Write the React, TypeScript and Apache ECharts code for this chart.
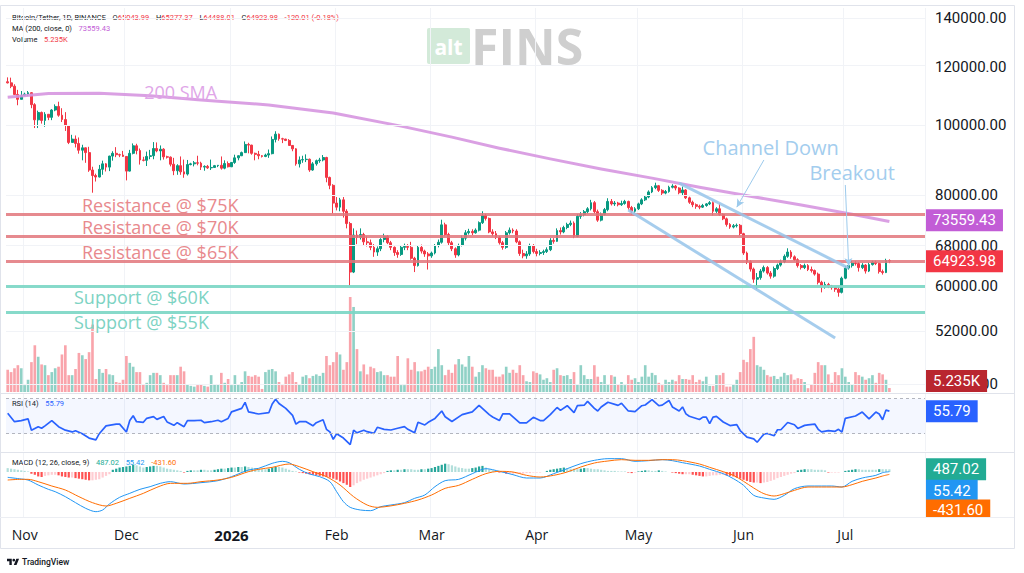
import React, { useEffect, useRef } from "react";
import * as echarts from "echarts";

// ---------- DATA ----------
const START_UTC = Date.UTC(2025, 9, 27); // first candle: 2025-10-27
const FUTURE_DAYS = 10;

// candles: [open, close, low, high] in thousand USDT
const oct2025 = [
  [114.5, 114.1, 113.9, 116.1], [114.1, 112.9, 112.2, 116.0], [112.9, 110.0, 109.9, 113.6],
  [110.0, 108.3, 106.3, 111.6], [108.3, 109.6, 108.3, 111.2],
];
const nov2025 = [
  [109.6, 110.1, 109.4, 110.6], [110.1, 110.6, 109.5, 111.2], [110.6, 106.5, 105.3, 110.8],
  [106.5, 101.5, 98.9, 107.0], [101.5, 103.9, 98.9, 104.5], [103.9, 101.3, 100.3, 104.2],
  [101.3, 103.3, 99.3, 104.0], [103.3, 102.3, 101.4, 103.4], [102.3, 104.7, 101.4, 105.0],
  [104.7, 105.9, 104.3, 106.6], [105.9, 103.0, 102.5, 107.5], [103.0, 101.6, 100.8, 105.3],
  [101.6, 99.7, 98.0, 104.0], [99.7, 94.5, 94.0, 99.8], [94.5, 95.5, 94.5, 96.8],
  [95.5, 94.2, 93.0, 96.6], [94.2, 92.2, 91.2, 96.0], [92.2, 92.9, 89.3, 93.8],
  [92.9, 91.5, 88.6, 93.0], [91.5, 86.6, 86.1, 93.2], [86.6, 85.1, 80.6, 87.5],
  [85.1, 84.7, 83.5, 85.6], [84.7, 86.8, 84.6, 88.0], [86.8, 88.3, 85.3, 89.2],
  [88.3, 87.4, 86.2, 88.5], [87.4, 90.5, 86.3, 90.6], [90.5, 91.3, 89.2, 91.9],
  [91.3, 90.9, 90.2, 93.1], [90.9, 90.8, 90.2, 91.2], [90.8, 90.4, 90.3, 92.0],
];
const dec2025 = [
  [90.4, 86.3, 83.8, 90.4], [86.3, 91.3, 86.2, 92.3], [91.3, 93.5, 91.0, 94.2],
  [93.5, 92.1, 91.0, 94.1], [92.1, 89.4, 88.1, 92.7], [89.4, 89.3, 89.0, 90.3],
  [89.3, 90.4, 87.7, 91.8], [90.4, 90.6, 89.6, 92.3], [90.6, 92.7, 89.6, 94.6],
  [92.7, 92.0, 91.6, 94.5], [92.0, 92.5, 89.3, 93.6], [92.5, 90.3, 89.5, 92.8],
  [90.3, 90.2, 89.8, 90.6], [90.2, 88.2, 87.6, 90.4], [88.2, 86.4, 85.2, 90.0],
  [86.4, 87.8, 85.3, 88.2], [87.8, 86.1, 85.3, 90.4], [86.1, 85.5, 84.5, 89.5],
  [85.5, 88.1, 85.1, 89.4], [88.1, 88.3, 87.9, 88.6], [88.3, 88.6, 87.6, 89.1],
  [88.6, 88.5, 87.9, 90.6], [88.5, 87.4, 86.6, 88.9], [87.4, 87.6, 86.4, 87.9],
  [87.6, 87.2, 86.9, 88.0], [87.2, 87.3, 86.6, 89.5], [87.3, 87.8, 87.2, 88.0],
  [87.8, 87.9, 87.4, 88.0], [87.9, 87.1, 86.7, 90.4], [87.1, 88.4, 86.8, 89.3],
  [88.4, 87.5, 87.3, 89.0],
];
const jan2026 = [
  [87.5, 88.7, 87.4, 88.8], [88.7, 90.0, 88.3, 90.9], [90.0, 90.6, 89.3, 90.7],
  [90.6, 91.5, 90.5, 91.8], [91.5, 93.9, 91.4, 94.8], [93.9, 93.7, 91.3, 94.4],
  [93.7, 91.3, 90.9, 93.8], [91.3, 91.0, 89.3, 91.5], [91.0, 90.6, 89.6, 92.0],
  [90.6, 90.4, 90.1, 90.8], [90.4, 90.8, 90.2, 91.2], [90.8, 91.2, 90.0, 92.4],
  [91.2, 95.4, 91.0, 96.3], [95.4, 97.0, 94.5, 97.9], [97.0, 95.6, 95.0, 97.2],
  [95.6, 95.5, 94.3, 95.9], [95.5, 95.1, 94.9, 95.6], [95.1, 93.6, 93.6, 95.5],
  [93.6, 92.6, 91.9, 93.7], [92.6, 88.3, 87.8, 92.8], [88.3, 89.4, 87.3, 90.4],
  [89.4, 89.5, 88.6, 90.6], [89.5, 89.6, 88.8, 91.0], [89.6, 86.6, 86.1, 89.8],
  [86.6, 88.3, 86.4, 88.8], [88.3, 89.2, 87.8, 89.5], [89.2, 89.4, 88.6, 90.0],
  [89.4, 90.1, 89.0, 90.8], [90.1, 84.6, 83.3, 90.3], [84.6, 82.5, 81.5, 84.8],
  [82.5, 78.0, 75.5, 82.8],
];
const feb2026 = [
  [78.0, 77.0, 76.2, 79.5], [77.0, 78.8, 76.0, 79.3], [78.8, 76.0, 74.5, 79.5],
  [76.0, 73.1, 72.0, 76.5], [73.1, 62.7, 60.1, 73.5], [62.7, 70.5, 62.5, 72.0],
  [70.5, 70.0, 68.5, 71.5], [70.0, 70.6, 69.5, 72.0], [70.6, 69.0, 68.3, 71.0],
  [69.0, 68.8, 68.0, 70.2], [68.8, 67.8, 67.2, 69.5], [67.8, 66.8, 65.8, 68.5],
  [66.8, 67.5, 66.0, 68.0], [67.5, 69.5, 67.0, 69.8], [69.5, 70.2, 68.9, 70.8],
  [70.2, 68.8, 68.5, 70.5], [68.8, 67.8, 67.2, 69.2], [67.8, 66.7, 66.0, 68.0],
  [66.7, 66.3, 65.6, 67.2], [66.3, 67.8, 66.0, 68.2], [67.8, 68.0, 67.2, 68.6],
  [68.0, 67.8, 67.2, 68.5], [67.8, 65.5, 65.2, 69.0], [65.5, 64.0, 62.7, 65.8],
  [64.0, 67.8, 63.8, 68.2], [67.8, 67.0, 66.5, 68.4], [67.0, 66.4, 65.8, 67.3],
  [66.4, 66.0, 63.2, 66.8],
];
const mar2026 = [
  [66.0, 66.6, 65.6, 66.9], [66.6, 68.2, 66.3, 68.5], [68.2, 68.9, 67.8, 69.5],
  [68.9, 72.8, 68.6, 74.0], [72.8, 70.6, 70.2, 73.3], [70.6, 68.8, 68.3, 71.0],
  [68.8, 67.5, 67.0, 69.2], [67.5, 66.2, 65.6, 67.8], [66.2, 68.2, 65.9, 68.6],
  [68.2, 69.8, 68.0, 70.4], [69.8, 71.0, 69.3, 71.6], [71.0, 71.3, 70.6, 71.9],
  [71.3, 71.0, 70.5, 71.8], [71.0, 71.6, 70.8, 72.0], [71.6, 73.3, 71.3, 73.6],
  [73.3, 75.0, 73.0, 76.0], [75.0, 74.3, 73.8, 75.4], [74.3, 71.2, 70.9, 74.5],
  [71.2, 70.8, 70.2, 71.8], [70.8, 70.0, 69.6, 71.4], [70.0, 68.8, 68.4, 70.3],
  [68.8, 67.8, 67.3, 69.2], [67.8, 71.0, 67.5, 71.4], [71.0, 71.6, 70.6, 72.2],
  [71.6, 71.4, 70.9, 72.0], [71.4, 69.0, 68.7, 71.8], [69.0, 66.5, 66.0, 69.3],
  [66.5, 66.0, 65.5, 67.3], [66.0, 66.4, 65.4, 67.0], [66.4, 68.2, 66.0, 68.6],
  [68.2, 66.9, 66.5, 68.5],
];
const apr2026 = [
  [66.9, 66.5, 65.9, 67.5], [66.5, 66.7, 66.1, 67.2], [66.7, 66.9, 66.2, 67.3],
  [66.9, 67.3, 66.6, 67.8], [67.3, 69.3, 67.0, 69.8], [69.3, 69.1, 68.6, 69.8],
  [69.1, 71.5, 69.0, 72.0], [71.5, 71.2, 70.6, 72.2], [71.2, 72.2, 70.9, 72.6],
  [72.2, 72.9, 71.8, 73.3], [72.9, 73.2, 72.5, 73.8], [73.2, 70.2, 69.8, 73.6],
  [70.2, 74.8, 70.0, 75.3], [74.8, 75.2, 74.2, 75.8], [75.2, 75.9, 74.8, 76.3],
  [75.9, 76.6, 75.5, 77.0], [76.6, 78.1, 76.2, 78.8], [78.1, 75.9, 75.5, 78.5],
  [75.9, 73.9, 73.5, 76.4], [73.9, 75.3, 73.6, 75.7], [75.3, 76.4, 75.0, 76.8],
  [76.4, 78.4, 76.0, 79.2], [78.4, 77.8, 77.4, 79.0], [77.8, 78.0, 77.3, 78.5],
  [78.0, 77.6, 77.2, 78.3], [77.6, 77.9, 77.3, 78.6], [77.9, 78.4, 77.6, 78.8],
  [78.4, 76.9, 76.4, 78.6], [76.9, 76.0, 75.2, 77.3], [76.0, 76.6, 75.6, 77.0],
];
const may2026 = [
  [76.6, 77.8, 76.3, 78.1], [77.8, 78.8, 77.5, 79.2], [78.8, 79.5, 78.5, 80.0],
  [79.5, 80.8, 79.2, 81.2], [80.8, 81.9, 80.5, 82.3], [81.9, 82.4, 81.5, 83.2],
  [82.4, 81.2, 80.8, 82.6], [81.2, 80.5, 80.0, 81.5], [80.5, 80.9, 80.2, 81.3],
  [80.9, 82.0, 80.6, 82.4], [82.0, 82.3, 81.7, 82.8], [82.3, 81.8, 81.2, 82.6],
  [81.8, 80.6, 80.2, 82.0], [80.6, 81.3, 79.8, 82.2], [81.3, 79.3, 79.0, 81.5],
  [79.3, 78.2, 77.8, 79.6], [78.2, 77.6, 77.0, 78.6], [77.6, 77.2, 76.6, 77.9],
  [77.2, 77.0, 76.5, 77.6], [77.0, 77.4, 76.8, 77.8], [77.4, 77.8, 77.1, 78.0],
  [77.8, 78.1, 77.5, 78.5], [78.1, 76.0, 75.0, 78.4], [76.0, 76.6, 75.6, 77.0],
  [76.6, 75.2, 74.9, 77.9], [75.2, 74.2, 73.9, 75.5], [74.2, 72.9, 72.4, 74.5],
  [72.9, 72.3, 71.9, 73.2], [72.3, 72.6, 72.0, 73.0], [72.6, 72.7, 72.2, 73.1],
  [72.7, 70.8, 70.4, 73.0],
];
const jun2026 = [
  [70.8, 66.6, 66.2, 71.0], [66.6, 64.8, 64.3, 66.9], [64.8, 63.3, 62.8, 65.1],
  [63.3, 61.3, 60.6, 63.6], [61.3, 61.6, 59.4, 62.5], [61.6, 62.9, 61.2, 63.3],
  [62.9, 63.6, 62.6, 64.0], [63.6, 62.5, 62.2, 63.9], [62.5, 61.9, 61.4, 62.9],
  [61.9, 63.4, 61.6, 63.8], [63.4, 64.1, 63.1, 64.4], [64.1, 64.8, 63.8, 65.2],
  [64.8, 65.9, 64.5, 66.3], [65.9, 66.8, 65.6, 67.6], [66.8, 65.8, 65.4, 67.2],
  [65.8, 65.2, 64.9, 66.1], [65.2, 64.0, 63.6, 65.5], [64.0, 63.6, 63.2, 64.3],
  [63.6, 64.0, 63.3, 64.4], [64.0, 63.2, 62.9, 64.3], [63.2, 63.0, 62.6, 63.8],
  [63.0, 62.3, 62.0, 63.2], [62.3, 60.7, 60.3, 62.6], [60.7, 59.9, 58.8, 61.0],
  [59.9, 60.3, 59.5, 60.8], [60.3, 60.0, 59.6, 60.6], [60.0, 59.7, 59.3, 60.2],
  [59.7, 59.4, 58.9, 60.0], [59.4, 58.8, 58.0, 59.9], [58.8, 61.5, 58.6, 61.8],
];
const jul2026 = [
  [61.5, 63.5, 61.3, 63.9], [63.5, 64.0, 63.2, 64.6], [64.0, 64.5, 63.6, 65.0],
  [64.5, 64.4, 64.0, 64.9], [64.4, 63.6, 62.8, 64.7], [63.6, 64.1, 63.3, 64.5],
  [64.1, 62.9, 62.4, 64.3], [62.9, 64.2, 62.7, 64.6], [64.2, 64.7, 64.0, 65.0],
  [64.7, 64.4, 64.1, 65.0], [64.4, 62.8, 62.4, 64.6], [62.8, 62.6, 62.2, 63.2],
  [62.6, 65.04399, 62.5, 65.4], [65.04399, 64.92398, 64.48801, 65.27737],
];

// volume, thousand BTC
const volumes = [
  29, 26, 31, 35, 31, 9, 16, 39, 61, 46,
  36, 35, 22, 26, 31, 33, 49, 61, 22, 22,
  30, 51, 48, 43, 52, 88, 17, 30, 25, 30, 23, 22, 13, 12, 16,
  47, 38, 33, 26, 26, 10, 12, 22, 25, 25, 22, 12, 9,
  22, 22, 22, 33, 27, 10, 8, 7, 9, 10, 8, 7,
  22, 10, 10, 25, 12, 17, 9, 22, 10, 13, 27,
  21, 20, 22, 20, 4, 26, 29, 30, 27,
  13, 9, 20, 23, 26, 13, 10, 20, 22, 18, 21, 23, 21, 25,
  47, 35, 39, 52, 49, 29, 39, 124, 111, 56,
  27, 36, 23, 33, 31, 26, 27, 22, 22, 20, 20,
  47, 9, 9, 44, 29, 39, 27, 27, 29, 33, 30, 33,
  56, 35, 22, 29, 25, 36, 43, 36, 33, 47, 33, 20, 26,
  35, 31, 29, 29, 20, 20, 23, 33, 25, 29, 25, 35,
  22, 14, 13, 27, 25, 23, 16, 18, 13, 29,
  31, 22, 21, 22, 17, 26, 10, 35, 22, 17, 17, 35,
  20, 13, 22, 10, 22, 20, 10, 13, 9, 22, 16, 18, 13, 20, 35, 20, 25, 22, 12, 9, 16, 13, 16, 14, 22, 17, 17, 16, 22,
  13, 16, 14, 20, 8, 8, 22, 22, 25, 7, 7, 10, 16,
  26, 42, 39, 56, 72, 35, 33, 29, 22, 20, 21, 17, 20, 25, 22, 23, 16, 18, 17, 13,
  5, 10,
  25, 39, 35, 35, 23, 12, 26, 22, 31, 20, 13, 10, 26, 22, 20, 16, 18, 22, 12, 25, 23, 16, 5.235,
];

// MACD histogram (USDT), one per candle
const macdHistogram = [
  700, 600, 500, 400, 300, 200, 100, -300, -500, -800, -900, -700,
  -600, -500, -500, -600, -800, -900, -1000, -1000, -1100, -1200, -1300, -1400, -1500, -1500, -1400, -1300,
  -1000, -700, -400, 400, 600, 800, 900, 1000, 1100, 1300, 1200, 1000, 800, 900, 1000,
  1100, 1100, 1000, 800, 600, 500, 400, 300, 200, -100,
  200, 300, 300, 300, 400, 400, 300, 300, 400, 500, 600, 600, 700, 800, 800, 900, 900, 1000,
  900, 800, 700, 600, 500, 500, 600, 800, 900, 900, 800, 600, 400, 200, 100,
  -100, -200, -300, -400, -500, -600, -700, -800, -900, -1000, -1200, -1400, -1700, -2000, -2300, -2700,
  -2400, -2000, -1700, -1400, -1200, -1000, -800, -600, -400, -200,
  200, 300, 300, 400, 400, 500, 500, 500, 400, 400, 500, 500, 600, 700, 900, 1100, 1300, 1500, 1400, 1200,
  1000, 800, 700, 600, 600, 700, 800, 1000, 1100, 800, 500, 300, 100, -100, -100,
  -300, -300, -300, -300, -300, -300, -200, -200, -100, -100, -100, 0,
  200, 400, 500, 600, 700, 800, 700, 600, 600, 500, 600, 700, 700, 600, 500, 500, 400,
  300, 200, 200, 200, 100, 100, 100, -100, -200, -100, 100, 200, 300, 300, 200, 200, 300, 200, 100, 0,
  -100, -200, -300, -400, -400, -400, -500, -600, -700, -800, -800, -700, -600, -600,
  -500, -500, -600, -700, -800, -1000, -1200, -1400, -1600, -1800, -1900, -1900, -2000, -1900, -1800, -1600,
  -1400, -1100, -900, -700, -500, -300, -200, 300, 400, 500, 500, 500, 400, 400, 400, 300,
  -100, -100, -100, -100, 0, 200, 300, 400, 500, 500, 400, 400, 400, 400, 400, 500, 500, 500, 487.02,
];

// sparse readings [candle index, value]
const smaPoints = [
  [0, 109000], [12, 110300], [27, 110400], [42, 109500], [57, 108100], [77, 106400], [96, 103700],
  [116, 99500], [131, 96100], [145, 92800], [160, 89700], [175, 86900], [190, 84400], [204, 82000],
  [219, 79700], [234, 77500], [249, 75300], [260, 73559.43],
];
const rsiPoints = [
  [0, 53.3], [2, 43.7], [4, 45], [6, 47], [7, 34], [9, 38], [10, 36.2], [11, 39], [13, 45], [15, 38], [17, 34],
  [19, 32], [20, 33.4], [22, 30], [24, 25], [26, 23], [27, 30], [29, 39], [32, 41], [33, 41], [35, 32], [36, 45],
  [37, 50.5], [38, 43.7], [40, 43], [41, 47.6], [43, 49.6], [44, 46.4], [46, 49.6], [47, 43.5], [49, 39.6],
  [50, 42.6], [52, 38], [53, 45], [55, 44.9], [57, 45.4], [58, 42.6], [60, 43.7], [62, 45.4], [63, 43.7],
  [65, 47.5], [66, 55], [69, 59], [70, 65.8], [71, 55], [74, 52.5], [77, 54], [78, 64], [79, 69.5], [80, 64.6],
  [82, 59], [84, 51], [85, 41], [86, 43.7], [88, 43.7], [90, 39], [91, 42.6], [93, 46], [94, 35], [95, 32],
  [96, 23.5], [97, 30], [99, 25], [101, 17.5], [102, 34], [103, 31], [105, 34], [106, 32.3], [108, 30.4],
  [109, 37.3], [111, 35], [113, 34.2], [115, 36.2], [117, 38], [118, 35], [120, 31], [121, 43], [123, 40],
  [124, 43], [126, 47.5], [128, 56], [129, 49.4], [131, 44], [134, 51.8], [137, 55], [139, 62.4], [142, 51.8],
  [143, 49.1], [145, 45], [146, 52.7], [148, 52.7], [151, 42.3], [153, 42.3], [155, 48.7], [157, 45], [158, 45],
  [160, 51.8], [162, 60], [163, 56.7], [165, 62], [167, 54], [168, 62], [170, 62.6], [171, 67], [173, 59],
  [174, 56], [175, 60.5], [177, 66], [180, 62.4], [181, 64.8], [183, 56], [185, 55.3], [187, 62], [188, 62.8],
  [190, 69], [192, 62], [193, 62.7], [195, 68], [196, 60.6], [198, 56], [199, 60.6], [200, 52.7], [201, 50],
  [204, 46.3], [205, 49], [206, 49], [207, 41.5], [208, 49], [209, 49.8], [211, 43.4], [213, 39.3], [215, 40.4],
  [216, 33.6], [218, 26], [220, 24], [221, 20.2], [223, 29.5], [224, 30.2], [226, 27.6], [227, 34.5], [228, 34.5],
  [230, 42.8], [232, 40.2], [233, 36], [235, 39.5], [236, 40], [238, 41], [239, 35], [240, 32], [242, 33.5],
  [244, 32.7], [245, 35], [246, 31.8], [247, 47.6], [250, 50.2], [252, 54.7], [254, 47], [256, 54.7],
  [257, 52.5], [258, 46], [259, 57], [260, 55.79],
];
const macdPoints = [
  [0, -960], [4, -1260], [6, -1440], [9, -2340], [12, -3120], [14, -3540], [17, -4440], [20, -5520], [23, -6540],
  [26, -7140], [28, -6840], [30, -5760], [33, -4560], [36, -3840], [39, -3120], [42, -2640], [45, -2040],
  [48, -1740], [52, -2160], [57, -1920], [62, -1560], [66, -840], [71, 360], [74, 660], [78, 1560], [81, 1920],
  [83, 1680], [86, 480], [89, -360], [92, -840], [95, -1740], [97, -3540], [99, -5340], [101, -6360], [104, -6840],
  [107, -6960], [110, -6240], [113, -5940], [117, -5520], [120, -4740], [123, -4140], [126, -2640], [129, -1560],
  [133, -1320], [137, -300], [141, 600], [145, 120], [149, -480], [153, -1080], [157, -1080], [161, -300],
  [165, 600], [169, 1500], [173, 2100], [177, 2400], [181, 2400], [185, 1920], [189, 2040], [193, 2220],
  [196, 2040], [199, 1680], [204, 1080], [207, 480], [211, -300], [214, -1200], [217, -2400], [220, -4200],
  [223, -4680], [226, -4920], [229, -4200], [232, -3000], [236, -2520], [240, -2520], [243, -2520], [246, -2700],
  [249, -1680], [252, -1080], [256, -600], [258, -120], [260, 55.42],
];
const signalPoints = [
  [0, -1440], [4, -1320], [6, -1320], [9, -1740], [13, -2520], [17, -3240], [21, -4440], [25, -5520],
  [29, -6120], [32, -5640], [36, -4740], [40, -3840], [44, -2760], [48, -2040], [53, -2040], [57, -1740],
  [62, -1440], [66, -960], [71, 60], [74, 480], [78, 840], [83, 1440], [86, 960], [90, 60], [94, -840],
  [98, -2340], [102, -4440], [106, -5940], [109, -6360], [113, -6100], [117, -5640], [121, -5040], [125, -4140],
  [129, -2940], [133, -2400], [137, -1320], [141, -300], [145, 120], [149, 0], [153, -600], [157, -900],
  [161, -600], [165, 0], [169, 900], [173, 1620], [177, 1980], [181, 2220], [185, 2100], [189, 2100],
  [193, 2220], [196, 2220], [199, 2040], [204, 1440], [207, 840], [211, 60], [214, -600], [217, -1680],
  [220, -2880], [223, -3900], [226, -4320], [229, -3900], [232, -3300], [236, -2700], [240, -2700],
  [243, -2700], [246, -2700], [249, -2280], [252, -1680], [256, -1080], [258, -720], [260, -431.6],
];

const priceTicks = [44000, 52000, 60000, 68000, 80000, 100000, 120000, 140000];
const resistanceLevels = [75000, 70000, 65000];
const supportLevels = [60000, 55000];
const channelUpper = [[198, 83100], [248, 63500]];
const channelLower = [[183, 76300], [244, 50900]];
const channelArrow = [[223, 89400], [215, 77000]];
const breakoutArrow = [[247, 82600], [248, 63900]];
const notes = [
  { text: "Channel Down", k: 225, price: 93100, color: "#a3cdee", size: 20 },
  { text: "Breakout", k: 249, price: 85800, color: "#a3cdee", size: 20 },
  { text: "200 SMA", k: 51, price: 110800, color: "#e0a6e8", size: 18 },
];
const lastClose = 64923.98;
const lastSma = 73559.43;
const lastVolumeText = "5.235K";
const lastVolume = 5.235;
const lastRsi = 55.79;
const lastHist = 487.02;
const lastMacd = 55.42;
const lastSignal = -431.6;

const PRICE_MIN = 42900;
const PRICE_MAX = 144600;

// ---------- helpers ----------
const monthNames = ["Jan", "Feb", "Mar", "Apr", "May", "Jun", "Jul", "Aug", "Sep", "Oct", "Nov", "Dec"];
const ln = (v: number) => Math.log(v);

echarts.graphic.registerShape(
  "tvlogo",
  echarts.graphic.extendPath("M14 22H7V11H0V4h14v18zM28 22h-8l7.5-18h8L28 22zM20 4a4 4 0 1 1 0 8a4 4 0 1 1 0-8z", {})
);

const hiddenLine = { color: "rgba(0,0,0,0)", width: 1, type: "solid" };

function box(text: string, color: string, offsetY = 0) {
  return {
    show: true,
    position: "end",
    distance: 1,
    formatter: text,
    backgroundColor: color,
    color: "#ffffff",
    padding: [3, 7, 3, 7],
    fontSize: 15,
    lineHeight: 16,
    fontFamily: "Roboto",
    offset: [0, offsetY],
  };
}

function buildOption() {
  const candles = [
    ...oct2025, ...nov2025, ...dec2025, ...jan2026, ...feb2026,
    ...mar2026, ...apr2026, ...may2026, ...jun2026, ...jul2026,
  ];
  const n = candles.length + FUTURE_DAYS;
  const dates: string[] = [];
  for (let i = 0; i < n; i++) dates.push(new Date(START_UTC + i * 86400000).toISOString().slice(0, 10));

  const candleData = candles.map(([o, c, l, h]) => [ln(o * 1000), ln(c * 1000), ln(l * 1000), ln(h * 1000)]);
  const volData = volumes.map((v, i) => ({
    value: v,
    itemStyle: { color: candles[i][1] >= candles[i][0] ? "rgba(8,153,129,0.45)" : "rgba(242,54,69,0.45)" },
  }));
  const histData = macdHistogram.map((v, i) => {
    const prev = i > 0 ? macdHistogram[i - 1] : v;
    let color;
    if (v >= 0) color = v > prev ? "#26a69a" : "#b2dfdb";
    else color = v < prev ? "#ff5252" : "#ffcdd2";
    return { value: v, itemStyle: { color } };
  });

  const isMonthStart = (_i: number, v: string) => v.slice(8) === "01";
  const left = 6;
  const right = 99;

  const hiddenX = (gi: number, split: boolean) => ({
    type: "category",
    gridIndex: gi,
    data: dates,
    boundaryGap: true,
    axisLine: { show: false },
    axisTick: { show: false },
    axisLabel: { show: false },
    splitLine: { show: split, interval: isMonthStart, lineStyle: { color: "#f1f3f7", width: 1 } },
  });

  const lineLabelOff = { show: false };

  return {
    animation: false,
    textStyle: { fontFamily: "Roboto" },
    grid: [
      { left, right, top: 8, height: 384 },
      { left, right, top: 297, height: 95 },
      { left, right, top: 394, height: 57 },
      { left, right, top: 453, height: 65 },
    ],
    xAxis: [
      hiddenX(0, true),
      hiddenX(1, false),
      hiddenX(2, true),
      {
        ...hiddenX(3, true),
        axisLabel: {
          show: true,
          interval: isMonthStart,
          margin: 9,
          color: "#131722",
          fontSize: 14,
          fontFamily: "Open Sans",
          formatter: (v: string) => {
            if (v.slice(8) !== "01") return "";
            const m = +v.slice(5, 7);
            return m === 1 ? "{y|" + v.slice(0, 4) + "}" : monthNames[m - 1];
          },
          rich: { y: { fontWeight: "bold", fontSize: 15, color: "#131722", fontFamily: "Open Sans" } },
        },
      },
    ],
    yAxis: [
      {
        type: "value",
        gridIndex: 0,
        position: "right",
        min: ln(PRICE_MIN),
        max: ln(PRICE_MAX),
        axisLine: { show: false },
        axisTick: { show: false },
        splitLine: { show: false },
        axisLabel: {
          customValues: priceTicks.map(ln),
          formatter: (v: number) => Math.round(Math.exp(v)).toFixed(2),
          color: "#131722",
          fontSize: 15,
          margin: 10,
          fontFamily: "Roboto",
        },
      },
      { type: "value", gridIndex: 1, min: 0, max: Math.max(...volumes), show: false, splitLine: { show: false } },
      { type: "value", gridIndex: 2, min: 10.2, max: 75.4, show: false, splitLine: { show: false } },
      { type: "value", gridIndex: 3, min: -8280, max: 3420, show: false, splitLine: { show: false } },
    ],
    series: [
      {
        type: "candlestick",
        xAxisIndex: 0,
        yAxisIndex: 0,
        data: candleData,
        barWidth: "70%",
        itemStyle: {
          color: "#089981",
          color0: "#f23645",
          borderColor: "#089981",
          borderColor0: "#f23645",
          borderWidth: 1,
        },
        markLine: {
          silent: true,
          symbol: ["none", "none"],
          animation: false,
          data: [
            ...priceTicks.map((p) => ({
              yAxis: ln(p),
              lineStyle: { color: "#f1f3f7", width: 1, type: "solid" },
              label: lineLabelOff,
            })),
            ...resistanceLevels.map((p) => ({
              yAxis: ln(p),
              lineStyle: { color: "rgba(226,118,123,0.85)", width: 3, type: "solid" },
              label: {
                show: true,
                position: "insideStartTop",
                distance: [76, 0],
                formatter: "Resistance @ $" + p / 1000 + "K",
                color: "#e8898d",
                fontSize: 18,
                fontFamily: "Open Sans",
              },
            })),
            ...supportLevels.map((p) => ({
              yAxis: ln(p),
              lineStyle: { color: "rgba(122,214,196,0.9)", width: 3, type: "solid" },
              label: {
                show: true,
                position: "insideStartBottom",
                distance: [68, 1],
                formatter: "Support @ $" + p / 1000 + "K",
                color: "#7dd3c3",
                fontSize: 18,
                fontFamily: "Open Sans",
              },
            })),
            ...[channelUpper, channelLower].map((seg) => [
              {
                coord: [seg[0][0], ln(seg[0][1])],
                lineStyle: { color: "rgba(150,196,234,0.85)", width: 3, type: "solid" },
                label: lineLabelOff,
              },
              { coord: [seg[1][0], ln(seg[1][1])] },
            ]),
            ...[channelArrow, breakoutArrow].map((seg) => [
              {
                coord: [seg[0][0], ln(seg[0][1])],
                symbol: "none",
                lineStyle: { color: "#9ccaec", width: 1, type: "solid" },
                label: lineLabelOff,
              },
              { coord: [seg[1][0], ln(seg[1][1])], symbol: "arrow", symbolSize: [6, 8] },
            ]),
            { yAxis: ln(lastClose), lineStyle: hiddenLine, label: box(lastClose.toFixed(2), "#f23645") },
          ],
        },
        markPoint: {
          silent: true,
          symbol: "rect",
          symbolSize: 1,
          itemStyle: { color: "rgba(0,0,0,0)" },
          data: notes.map((nt) => ({
            coord: [nt.k, ln(nt.price)],
            label: {
              show: true,
              position: "inside",
              formatter: nt.text,
              color: nt.color,
              fontSize: nt.size,
              fontFamily: "Open Sans",
            },
          })),
        },
      },
      {
        type: "line",
        name: "SMA200",
        xAxisIndex: 0,
        yAxisIndex: 0,
        data: smaPoints.map(([k, v]) => [k, ln(v)]),
        smooth: false,
        symbol: "none",
        lineStyle: { color: "rgba(214,150,224,0.9)", width: 3, join: "round" },
        markLine: {
          silent: true,
          symbol: ["none", "none"],
          data: [{ yAxis: ln(lastSma), lineStyle: hiddenLine, label: box(lastSma.toFixed(2), "#c25dd6") }],
        },
      },
      {
        type: "bar",
        xAxisIndex: 1,
        yAxisIndex: 1,
        data: volData,
        barWidth: "78%",
        markLine: {
          silent: true,
          symbol: ["none", "none"],
          data: [{ yAxis: lastVolume, lineStyle: hiddenLine, label: box(lastVolumeText, "#b9262f", -7) }],
        },
      },
      {
        type: "line",
        xAxisIndex: 2,
        yAxisIndex: 2,
        data: rsiPoints,
        symbol: "none",
        lineStyle: { color: "#2962ff", width: 1.7 },
        markArea: {
          silent: true,
          itemStyle: { color: "rgba(41,98,255,0.05)" },
          data: [[{ yAxis: 30 }, { yAxis: 70 }]],
        },
        markLine: {
          silent: true,
          symbol: ["none", "none"],
          data: [
            { yAxis: 70, lineStyle: { color: "#b2b5be", width: 1, type: [3, 3] }, label: lineLabelOff },
            { yAxis: 30, lineStyle: { color: "#b2b5be", width: 1, type: [3, 3] }, label: lineLabelOff },
            { yAxis: lastRsi, lineStyle: hiddenLine, label: box(lastRsi.toFixed(2), "#2962ff") },
          ],
        },
      },
      {
        type: "bar",
        xAxisIndex: 3,
        yAxisIndex: 3,
        data: histData,
        barWidth: "65%",
        markLine: {
          silent: true,
          symbol: ["none", "none"],
          data: [{ yAxis: lastHist, lineStyle: hiddenLine, label: box(lastHist.toFixed(2), "#22ab94") }],
        },
      },
      {
        type: "line",
        xAxisIndex: 3,
        yAxisIndex: 3,
        data: macdPoints,
        smooth: 0.3,
        symbol: "none",
        lineStyle: { color: "#2196f3", width: 1 },
        markLine: {
          silent: true,
          symbol: ["none", "none"],
          data: [{ yAxis: lastMacd, lineStyle: hiddenLine, label: box(lastMacd.toFixed(2), "#2196f3", 19) }],
        },
      },
      {
        type: "line",
        xAxisIndex: 3,
        yAxisIndex: 3,
        data: signalPoints,
        smooth: 0.3,
        symbol: "none",
        lineStyle: { color: "#ff6d00", width: 1 },
        markLine: {
          silent: true,
          symbol: ["none", "none"],
          data: [{ yAxis: lastSignal, lineStyle: hiddenLine, label: box(lastSignal.toFixed(2), "#ff6d00", 36) }],
        },
      },
    ],
    graphic: [
      {
        type: "rect",
        silent: true,
        z: 0,
        shape: { x: 0.5, y: 5.5, width: 1014, height: 543 },
        style: { fill: "none", stroke: "#e0e3eb", lineWidth: 1 },
      },
      { type: "line", silent: true, shape: { x1: 0, y1: 393.5, x2: 1014, y2: 393.5 }, style: { stroke: "#e0e3eb" } },
      { type: "line", silent: true, shape: { x1: 0, y1: 452.5, x2: 1014, y2: 452.5 }, style: { stroke: "#e0e3eb" } },
      {
        type: "rect",
        silent: true,
        z: 100,
        shape: { x: 921, y: 518, width: 93, height: 30 },
        style: { fill: "#ffffff" },
      },
      {
        type: "line",
        silent: true,
        z: 101,
        shape: { x1: 0, y1: 517.5, x2: 1014, y2: 517.5 },
        style: { stroke: "#eceef3" },
      },
      // watermark
      {
        type: "rect",
        silent: true,
        shape: { x: 427, y: 28, width: 43, height: 36, r: 2 },
        style: { fill: "#d3ead9" },
      },
      {
        type: "text",
        silent: true,
        x: 448.5,
        y: 47,
        style: {
          text: "alt",
          fill: "#ffffff",
          font: 'bold 21px "Open Sans"',
          align: "center",
          verticalAlign: "middle",
        },
      },
      {
        type: "text",
        silent: true,
        x: 471,
        y: 46,
        style: { text: "FINS", fill: "#cfcfcf", font: 'bold 50px "Open Sans"', verticalAlign: "middle" },
      },
      // legends
      {
        type: "text",
        silent: true,
        x: 12,
        y: 17,
        style: {
          text:
            "{d|Bitcoin/Tether, 1D, BINANCE}  {d|O}{r|65043.99}  {d|H}{r|65277.37}  {d|L}{r|64488.01}  {d|C}{r|64923.98}  {r|-120.01 (-0.18%)}",
          verticalAlign: "middle",
          rich: {
            d: { fill: "#131722", fontSize: 7.5, fontFamily: "Roboto" },
            r: { fill: "#f23645", fontSize: 7.5, fontFamily: "Roboto" },
          },
        },
      },
      {
        type: "text",
        silent: true,
        x: 12,
        y: 28,
        style: {
          text: "{d|MA (200, close, 0)}  {p|73559.43}",
          verticalAlign: "middle",
          rich: {
            d: { fill: "#131722", fontSize: 7.5, fontFamily: "Roboto" },
            p: { fill: "#c25dd6", fontSize: 7.5, fontFamily: "Roboto" },
          },
        },
      },
      {
        type: "text",
        silent: true,
        x: 12,
        y: 39,
        style: {
          text: "{d|Volume}  {r|5.235K}",
          verticalAlign: "middle",
          rich: {
            d: { fill: "#131722", fontSize: 7.5, fontFamily: "Roboto" },
            r: { fill: "#f23645", fontSize: 7.5, fontFamily: "Roboto" },
          },
        },
      },
      {
        type: "text",
        silent: true,
        x: 12,
        y: 403,
        style: {
          text: "{d|RSI (14)}  {b|55.79}",
          verticalAlign: "middle",
          rich: {
            d: { fill: "#131722", fontSize: 7.5, fontFamily: "Roboto" },
            b: { fill: "#2962ff", fontSize: 7.5, fontFamily: "Roboto" },
          },
        },
      },
      {
        type: "text",
        silent: true,
        x: 12,
        y: 462,
        style: {
          text: "{d|MACD (12, 26, close, 9)}  {g|487.02}  {b|55.42}  {o|-431.60}",
          verticalAlign: "middle",
          rich: {
            d: { fill: "#131722", fontSize: 7.5, fontFamily: "Roboto" },
            g: { fill: "#22ab94", fontSize: 7.5, fontFamily: "Roboto" },
            b: { fill: "#2196f3", fontSize: 7.5, fontFamily: "Roboto" },
            o: { fill: "#ff6d00", fontSize: 7.5, fontFamily: "Roboto" },
          },
        },
      },
      // TradingView mark
      { type: "tvlogo", silent: true, x: 7, y: 557.5, scaleX: 0.34, scaleY: 0.34, style: { fill: "#131722" } },
      {
        type: "text",
        silent: true,
        x: 22,
        y: 562,
        style: { text: "TradingView", fill: "#131722", font: '500 8.5px Roboto', verticalAlign: "middle" },
      },
    ],
  };
}

export default function App() {
  const ref = useRef<HTMLDivElement>(null);
  useEffect(() => {
    if (!ref.current) return;
    const chart = echarts.init(ref.current, undefined, { renderer: "svg" });
    chart.setOption(buildOption() as any);
    return () => chart.dispose();
  }, []);
  return (
    <div
      ref={ref}
      style={{ position: "absolute", left: 0, top: 0, width: 1024, height: 573, background: "#ffffff" }}
    />
  );
}
